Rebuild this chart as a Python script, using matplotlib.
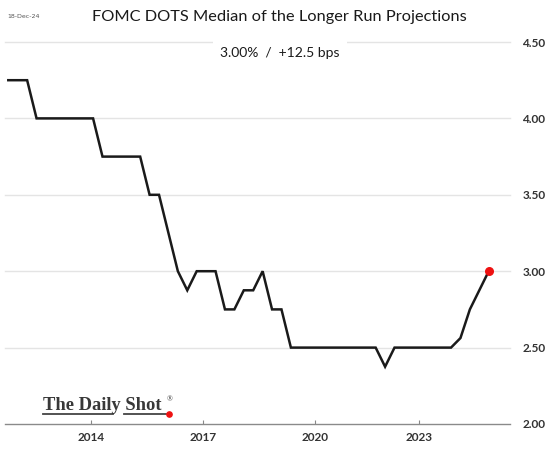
import matplotlib.pyplot as plt
from matplotlib.lines import Line2D

# FOMC SEP dates (the chart spaces observations evenly, no Mar-2020 SEP)
dates = ["Jan-12", "Apr-12", "Jun-12", "Sep-12", "Dec-12",
         "Mar-13", "Jun-13", "Sep-13", "Dec-13",
         "Mar-14", "Jun-14", "Sep-14", "Dec-14",
         "Mar-15", "Jun-15", "Sep-15", "Dec-15",
         "Mar-16", "Jun-16", "Sep-16", "Dec-16",
         "Mar-17", "Jun-17", "Sep-17", "Dec-17",
         "Mar-18", "Jun-18", "Sep-18", "Dec-18",
         "Mar-19", "Jun-19", "Sep-19", "Dec-19",
         "Jun-20", "Sep-20", "Dec-20",
         "Mar-21", "Jun-21", "Sep-21", "Dec-21",
         "Mar-22", "Jun-22", "Sep-22", "Dec-22",
         "Mar-23", "Jun-23", "Sep-23", "Dec-23",
         "Mar-24", "Jun-24", "Sep-24", "Dec-24"]
longer_run = [4.25, 4.25, 4.25, 4.00, 4.00,
              4.00, 4.00, 4.00, 4.00,
              4.00, 3.75, 3.75, 3.75,
              3.75, 3.75, 3.50, 3.50,
              3.25, 3.00, 2.875, 3.00,
              3.00, 3.00, 2.75, 2.75,
              2.875, 2.875, 3.00, 2.75,
              2.75, 2.50, 2.50, 2.50,
              2.50, 2.50, 2.50,
              2.50, 2.50, 2.50, 2.50,
              2.375, 2.50, 2.50, 2.50,
              2.50, 2.50, 2.50, 2.50,
              2.5625, 2.75, 2.875, 3.00]
year_labels = ["2014", "2017", "2020", "2023"]
year_pos = [8.75, 20.7, 32.56, 43.6]   # where the year starts on the observation axis
y_ticks = [2.00, 2.50, 3.00, 3.50, 4.00, 4.50]

x = list(range(len(longer_run)))

fig = plt.figure(figsize=(5.6, 4.58), dpi=100)
ax = fig.add_axes([5/560, 1-424/458, 505/560, (424-42)/458])

ax.plot(x, longer_run, color="#1a1a1a", lw=1.8, solid_joinstyle="miter", zorder=3)
ax.scatter(x[-1], longer_run[-1], s=30, color="#ee1111", zorder=4)

ax.set_xlim(-0.35, 53.26)
ax.set_ylim(2.0, 4.5)
ax.set_yticks(y_ticks)
ax.set_yticklabels([f"{v:.2f}" for v in y_ticks])
ax.yaxis.tick_right()
ax.tick_params(axis="y", length=0, pad=9, labelsize=8.5, labelcolor="#333333")
for t in ax.get_yticklabels():
    t.set_fontweight("bold")
    t.set_family("Lato")
ax.set_xticks(year_pos)
ax.set_xticklabels(year_labels)
ax.tick_params(axis="x", direction="in", length=3, width=0.8, color="#888888",
               labelsize=8.5, labelcolor="#333333", pad=6)
for t in ax.get_xticklabels():
    t.set_fontweight("bold")
    t.set_family("Lato")

for v in y_ticks[1:]:
    ax.axhline(v, color="#e4e4e4", lw=1, zorder=1, clip_on=False)
for s in ["top", "left", "right"]:
    ax.spines[s].set_visible(False)
ax.spines["bottom"].set_color("#8a8a8a")
ax.spines["bottom"].set_linewidth(1)

fig.text(279/560, 1-17/458, "FOMC DOTS Median of the Longer Run Projections",
         ha="center", va="center", fontsize=11.8, family="Lato", color="#1a1a1a")
fig.text(24/560, 1-17/458, "18-Dec-24", ha="center", va="center",
         fontsize=4.5, color="#555555")
fig.text(280/560, 1-53/458, "3.00%  /  +12.5 bps", ha="center", va="center",
         fontsize=10, family="Lato", color="#1a1a1a",
         bbox=dict(facecolor="white", edgecolor="none", boxstyle="square,pad=0.5"))

# logo
fig.text(43/560, 1-410/458, "The Daily Shot", ha="left", va="baseline",
         fontsize=13.3, family="Liberation Serif", fontweight="bold", color="#383838")
fig.text(167/560, 1-401/458, "®", ha="left", va="baseline",
         fontsize=5.5, family="Liberation Serif", color="#333333")
fig.add_artist(Line2D([43/560, 113/560], [1-414/458, 1-414/458],
                      transform=fig.transFigure, color="#444444", lw=1.3))
fig.add_artist(Line2D([124/560, 166/560], [1-414/458, 1-414/458],
                      transform=fig.transFigure, color="#444444", lw=1.3))
fig.add_artist(Line2D([168.5/560], [1-414.3/458], transform=fig.transFigure,
                      marker="o", markersize=3.8, color="#ee1111", lw=0))

fig.savefig("out.png", dpi=100, facecolor="white")
